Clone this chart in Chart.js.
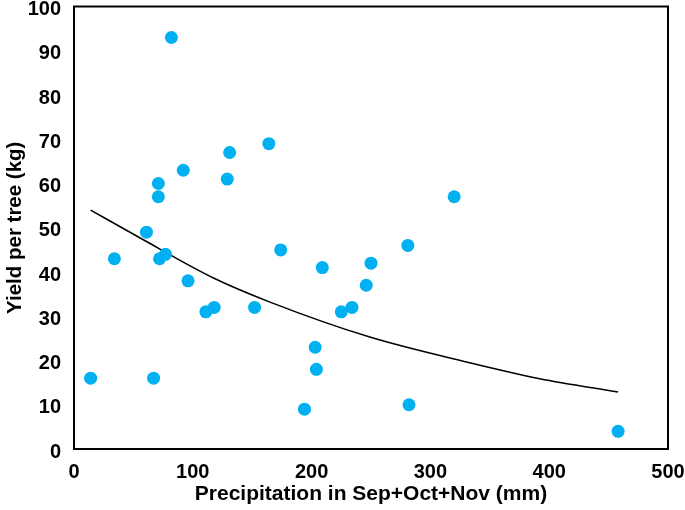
<!DOCTYPE html>
<html>
<head>
<meta charset="utf-8">
<script src="https://cdn.jsdelivr.net/npm/chart.js@4"></script>
<style>
  html, body { margin: 0; padding: 0; background: #fff; }
  #wrap { width: 685px; height: 510px; }
</style>
</head>
<body>
<div id="wrap"><canvas id="myChart" width="685" height="510"></canvas></div>
<script>
// precipitation (mm) and yield (kg) per observation
const precip = [14, 34, 61, 67, 71, 71, 72, 77, 82, 92, 96, 111, 118, 129, 131,
                152, 164, 174, 194, 203, 204, 209, 225, 234, 246, 250, 281, 282, 320, 458];
const yieldKg = [16, 43, 49, 16, 57, 60, 43, 44, 93, 63, 38, 31, 32, 61, 67,
                 32, 69, 45, 9, 23, 18, 41, 31, 32, 37, 42, 46, 10, 57, 4];

// trend line
const trendX = [14, 55, 117, 165, 249, 333, 392, 458];
const trendY = [54.0, 47.8, 38.7, 33.2, 25.3, 19.5, 15.9, 12.9];

const xTicks = [0, 100, 200, 300, 400, 500];
const yTicks = [0, 10, 20, 30, 40, 50, 60, 70, 80, 90, 100];

const FONT = "'Liberation Sans', Arial, sans-serif";

const boxPlugin = {
    id: 'box',
    afterDatasetsDraw(chart) {
        const a = chart.chartArea, c = chart.ctx;
        c.save();
        c.strokeStyle = '#000';
        c.lineWidth = 2;
        c.strokeRect(a.left, a.top, a.right - a.left, a.bottom - a.top);
        c.restore();
    }
};

let ctx = document.getElementById('myChart').getContext('2d');
new Chart(ctx, {
    type: 'scatter',
    data: {
        datasets: [
            {
                label: 'Yield',
                data: precip.map((x, i) => ({ x: x, y: yieldKg[i] })),
                backgroundColor: '#00B0F0',
                borderColor: '#00B0F0',
                pointRadius: 6.5,
                pointBorderWidth: 0,
                order: 1
            },
            {
                label: 'Trend',
                type: 'line',
                data: trendX.map((x, i) => ({ x: x, y: trendY[i] })),
                borderColor: '#000',
                borderWidth: 1.5,
                pointRadius: 0,
                cubicInterpolationMode: 'monotone',
                fill: false,
                order: 2
            }
        ]
    },
    options: {
        responsive: false,
        animation: false,
        layout: { padding: { top: 5, right: 17, left: 0, bottom: 0 } },
        plugins: { legend: { display: false }, tooltip: { enabled: false } },
        scales: {
            x: {
                type: 'linear', min: 0, max: 500,
                afterBuildTicks: s => { s.ticks = xTicks.map(v => ({ value: v })); },
                afterFit: s => { s.height = 61; s.paddingLeft = 0; s.paddingRight = 0; },
                grid: { display: false, drawTicks: false },
                border: { display: false },
                ticks: { color: '#000', padding: 11, font: { family: FONT, size: 20, weight: 'bold' } },
                title: {
                    display: true, text: 'Precipitation in Sep+Oct+Nov (mm)', color: '#000',
                    font: { family: FONT, size: 21, weight: 'bold' }, padding: { top: 0, bottom: 3 }
                }
            },
            y: {
                type: 'linear', min: 0, max: 100,
                afterBuildTicks: s => { s.ticks = yTicks.map(v => ({ value: v })); },
                afterFit: s => { s.width = 74; s.paddingTop = 0; s.paddingBottom = 0; },
                grid: { display: false, drawTicks: false },
                border: { display: false },
                ticks: { color: '#000', padding: 13, labelOffset: 3, font: { family: FONT, size: 20, weight: 'bold' } },
                title: {
                    display: true, text: 'Yield per tree (kg)', color: '#000',
                    font: { family: FONT, size: 20.5, weight: 'bold' }, padding: { top: 3, bottom: 0 }
                }
            }
        }
    },
    plugins: [boxPlugin]
});
</script>
</body>
</html>
